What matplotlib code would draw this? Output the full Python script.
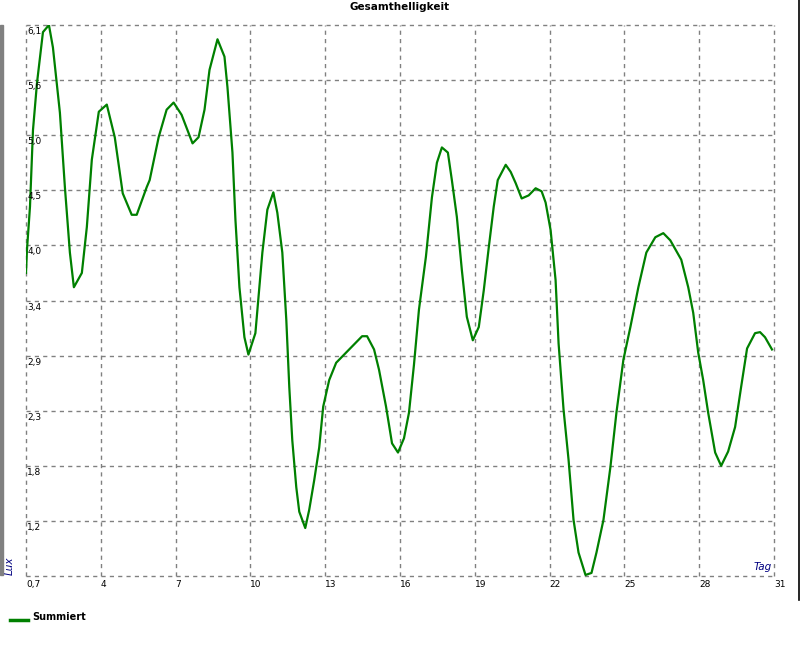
import matplotlib
matplotlib.use("Agg")
import matplotlib.pyplot as plt
from matplotlib.lines import Line2D
from matplotlib.patches import Rectangle

# Tag / Lux
tage = [1.00, 1.04, 1.16, 1.28, 1.44, 1.68, 1.92, 2.08, 2.36, 2.56, 2.76, 2.92,
        3.24, 3.44, 3.64, 3.92, 4.24, 4.56, 4.88, 5.24, 5.44, 5.84, 5.96, 6.32,
        6.64, 6.92, 7.24, 7.68, 7.92, 8.16, 8.36, 8.68, 8.96, 9.08, 9.28, 9.40,
        9.56, 9.76, 9.92, 10.20, 10.48, 10.68, 10.92, 11.08, 11.28, 11.44, 11.56,
        11.68, 11.84, 11.96, 12.20, 12.36, 12.56, 12.76, 12.92, 13.16, 13.44,
        13.84, 14.48, 14.68, 14.96, 15.16, 15.44, 15.68, 15.92, 16.16, 16.36,
        16.56, 16.76, 17.04, 17.28, 17.48, 17.68, 17.92, 18.08, 18.28, 18.48,
        18.68, 18.92, 19.16, 19.36, 19.56, 19.76, 19.92, 20.24, 20.44, 20.64,
        20.88, 21.16, 21.44, 21.68, 21.84, 22.04, 22.24, 22.36, 22.56, 22.76,
        22.96, 23.16, 23.44, 23.68, 23.88, 24.16, 24.44, 24.68, 24.96, 25.24,
        25.56, 25.88, 26.24, 26.56, 26.84, 27.28, 27.56, 27.76, 27.96, 28.16,
        28.36, 28.64, 28.88, 29.16, 29.44, 29.68, 29.92, 30.24, 30.44, 30.64,
        30.92]
summiert = [3.67, 3.90, 4.32, 5.07, 5.53, 6.03, 6.10, 5.88, 5.24, 4.51, 3.87, 3.53,
            3.67, 4.12, 4.78, 5.25, 5.32, 5.00, 4.45, 4.24, 4.24, 4.51, 4.58, 5.00,
            5.27, 5.34, 5.22, 4.94, 5.00, 5.27, 5.66, 5.96, 5.79, 5.49, 4.85, 4.19,
            3.53, 3.04, 2.87, 3.08, 3.87, 4.29, 4.46, 4.26, 3.87, 3.21, 2.55,
            2.03, 1.57, 1.33, 1.17, 1.35, 1.64, 1.96, 2.36, 2.62, 2.79,
            2.89, 3.05, 3.05, 2.92, 2.72, 2.36, 2.00, 1.91, 2.05, 2.30,
            2.77, 3.31, 3.83, 4.41, 4.75, 4.90, 4.85, 4.58, 4.22, 3.70,
            3.24, 3.01, 3.14, 3.50, 3.92, 4.32, 4.58, 4.73, 4.66, 4.55,
            4.40, 4.43, 4.50, 4.47, 4.36, 4.09, 3.60, 2.98, 2.33, 1.84,
            1.25, 0.93, 0.71, 0.73, 0.93, 1.25, 1.77, 2.30, 2.82, 3.14,
            3.53, 3.87, 4.02, 4.06, 3.99, 3.80, 3.53, 3.28, 2.89, 2.62,
            2.30, 1.91, 1.78, 1.92, 2.16, 2.55, 2.93, 3.08, 3.09, 3.04,
            2.92]

y_ticks = [0.7, 1.24, 1.78, 2.32, 2.86, 3.4, 3.94, 4.48, 5.02, 5.56, 6.1]
y_labels = ["0,7", "1,2", "1,8", "2,3", "2,9", "3,4", "4,0", "4,5", "5,0", "5,6", "6,1"]
x_ticks = [1, 4, 7, 10, 13, 16, 19, 22, 25, 28, 31]
x_labels = ["0,7", "4", "7", "10", "13", "16", "19", "22", "25", "28", "31"]

fig = plt.figure(figsize=(8, 6.5), dpi=100)
ax = fig.add_axes([26 / 800, 1 - 576 / 650, 748 / 800, 551 / 650])

ax.plot(tage, summiert, color="#008000", lw=1.6, zorder=3)

ax.set_xlim(1, 31)
ax.set_ylim(0.7, 6.1)
ax.set_xticks(x_ticks)
ax.set_yticks(y_ticks)
ax.set_xticklabels([])
ax.set_yticklabels([])
ax.tick_params(length=0)
ax.grid(True, color="#808080", linestyle=(0, (3, 3)), lw=1)
for gl in ax.get_xgridlines() + ax.get_ygridlines():
    gl.set_clip_on(False)
for s in ax.spines.values():
    s.set_visible(False)

# y labels inside the plot, under each grid line (bottom one is shared with x)
for v, lab in zip(y_ticks[1:], y_labels[1:]):
    ax.text(1.05, v - 0.02, lab, fontsize=6.5, ha="left", va="top", color="black")
for v, lab in zip(x_ticks, x_labels):
    ax.text(v, 0.66, lab, fontsize=6.5, ha="left", va="top", color="black",
            clip_on=False)

ax.text(30.9, 0.74, "Tag", fontsize=7.5, style="italic", color="#000080",
        ha="right", va="bottom")
fig.text(0.012, 1 - 566 / 650, "Lux", fontsize=7.5, style="italic", rotation=90,
         color="#000080", ha="center", va="center")

fig.text(0.5, 1 - 7 / 650, "Gesamthelligkeit", fontsize=7.5, weight="bold",
         ha="center", va="center")

# frame bits of the original window
fig.patches.append(Rectangle((0, 1 - 575 / 650), 2.5 / 800, 550 / 650,
                             transform=fig.transFigure, color="#808080"))
fig.lines.append(Line2D([798.5 / 800, 798.5 / 800], [1, 1 - 600 / 650],
                        transform=fig.transFigure, color="black", lw=1.2))

# legend
fig.lines.append(Line2D([10 / 800, 28 / 800], [1 - 620 / 650, 1 - 620 / 650],
                        transform=fig.transFigure, color="#008000", lw=2.5))
fig.text(32 / 800, 1 - 617 / 650, "Summiert", fontsize=7, weight="bold",
         ha="left", va="center")

fig.savefig("out.png", dpi=100)
